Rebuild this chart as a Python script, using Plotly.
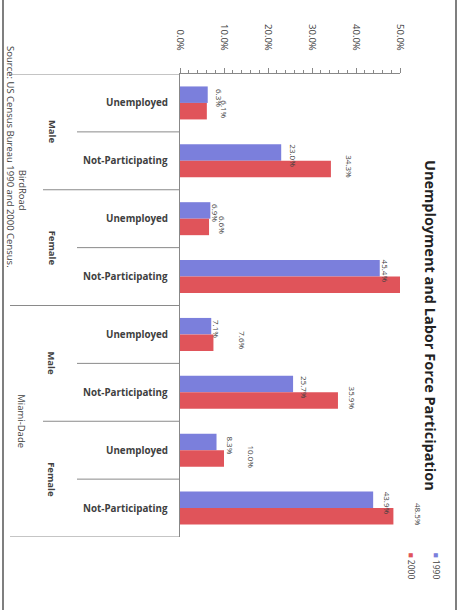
import plotly.graph_objects as go

# ---------------- data ----------------
cat_region = ["BirdRoad"] * 4 + ["Miami-Dade"] * 4
cat_sex = ["Male", "Male", "Female", "Female"] * 2
cat_status = ["Unemployed", "Not-Participating"] * 4
categories = [f"{r} | {s} | {t}" for r, s, t in zip(cat_region, cat_sex, cat_status)]

values_1990 = [6.3, 23.0, 6.9, 45.4, 7.1, 25.7, 8.3, 43.9]
values_2000 = [6.1, 34.3, 6.6, 50.0, 7.6, 35.9, 10.0, 48.5]
labels_1990 = ["6.3%", "23.0%", "6.9%", "45.4%", "7.1%", "25.7%", "8.3%", "43.9%"]
labels_2000 = ["6.1%", "34.3%", "6.6%", "", "7.6%", "35.9%", "10.0%", "48.5%"]

x_tickvals = [0, 10, 20, 30, 40, 50]
x_ticktext = ["0.0%", "10.0%", "20.0%", "30.0%", "40.0%", "50.0%"]

title_text = "Unemployment and Labor Force Participation"
source_text = "Source: US Census Bureau 1990 and 2000 Census."
series_names = ["1990", "2000"]

# label placement offsets (px, styling only)
shift_1990 = [12, 12, 5, 6, 6, 12, 14, 14]
shift_2000 = [18, 19, 13, 0, 29, 14, 28, 25]

# ---------------- style ----------------
BLUE = "#7b7fdc"
RED = "#e0545a"
TXT = "#404040"
FONT = "Open Sans"
W, H = 461, 610
L, R, T, B = 180, 61, 74, 73
PW, PH = W - L - R, H - T - B
BARGAP = 0.43


def px_to_paper_x(px):
    return (px - L) / PW


def px_to_paper_y(py):
    return (H - B - py) / PH


fig = go.Figure()
fig.add_trace(go.Bar(y=categories, x=values_1990, orientation="h", name=series_names[0],
                     marker=dict(color=BLUE, line=dict(width=0))))
fig.add_trace(go.Bar(y=categories, x=values_2000, orientation="h", name=series_names[1],
                     marker=dict(color=RED, line=dict(width=0))))

annotations = []
shapes = []

# value labels
half = (1 - BARGAP) / 4
for i in range(len(categories)):
    for vals, labs, shifts, dy, ysh in ((values_1990, labels_1990, shift_1990, -half, -3),
                                        (values_2000, labels_2000, shift_2000, half, 2)):
        if labs[i]:
            annotations.append(dict(x=vals[i], y=i + dy, xref="x", yref="y", text=labs[i],
                                    textangle=90, showarrow=False, xanchor="center",
                                    yanchor="middle", xshift=shifts[i], yshift=ysh,
                                    font=dict(family=FONT, size=8, color=TXT)))

# status labels
for i, s in enumerate(cat_status):
    annotations.append(dict(x=px_to_paper_x(170), y=i, xref="paper", yref="y", text=f"<b>{s}</b>",
                            showarrow=False, xanchor="right", yanchor="middle",
                            font=dict(family=FONT, size=9.8, color=TXT)))


def groups(keys):
    out = []
    start = 0
    for i in range(1, len(keys) + 1):
        if i == len(keys) or keys[i] != keys[start] or cat_region[i] != cat_region[start]:
            out.append((keys[start], start, i - 1))
            start = i
    return out


for name, a, b in groups(cat_sex):
    annotations.append(dict(x=px_to_paper_x(52), y=(a + b) / 2, xref="paper", yref="y",
                            text=f"<b>{name}</b>", textangle=90, showarrow=False,
                            xanchor="center", yanchor="middle",
                            font=dict(family=FONT, size=9.5, color=TXT)))
for name, a, b in groups(cat_region):
    annotations.append(dict(x=px_to_paper_x(22), y=(a + b) / 2, xref="paper", yref="y",
                            text=name, textangle=90, showarrow=False,
                            xanchor="center", yanchor="middle",
                            font=dict(family=FONT, size=9.5, color=TXT)))

# separators
n = len(categories)
for b in range(n + 1):
    if b == 0 or b == n or cat_region[b] != cat_region[b - 1]:
        x0 = 10
    elif cat_sex[b] != cat_sex[b - 1]:
        x0 = 43
    else:
        x0 = 77
    shapes.append(dict(type="line", xref="paper", yref="y", x0=px_to_paper_x(x0), x1=0,
                       y0=b - 0.5, y1=b - 0.5, line=dict(color="#8a8a8a", width=1)))

# title
annotations.append(dict(x=px_to_paper_x(431), y=px_to_paper_y(325), xref="paper", yref="paper",
                        text=f"<b>{title_text}</b>", textangle=90, showarrow=False,
                        xanchor="center", yanchor="middle",
                        font=dict(family=FONT, size=14.5, color="#222222")))
# source
annotations.append(dict(x=px_to_paper_x(10), y=px_to_paper_y(157), xref="paper", yref="paper",
                        text=source_text, textangle=90, showarrow=False,
                        xanchor="center", yanchor="middle",
                        font=dict(family=FONT, size=9.5, color=TXT)))
# legend (rotated)
for name, col, xpx in ((series_names[0], BLUE, 436), (series_names[1], RED, 411)):
    annotations.append(dict(x=px_to_paper_x(xpx), y=px_to_paper_y(550), xref="paper", yref="paper",
                            text=f"<span style='color:{col}'>■</span> {name}", textangle=90,
                            showarrow=False, xanchor="center", yanchor="top",
                            font=dict(family=FONT, size=8.5, color=TXT)))

# outer frame (left and right edges)
for xpx in (3, 456):
    shapes.append(dict(type="line", xref="paper", yref="paper",
                       x0=px_to_paper_x(xpx), x1=px_to_paper_x(xpx),
                       y0=px_to_paper_y(H), y1=px_to_paper_y(0),
                       line=dict(color="#555555", width=1.5)))

fig.update_layout(
    width=W, height=H,
    margin=dict(l=L, r=R, t=T, b=B, pad=0),
    paper_bgcolor="white", plot_bgcolor="white",
    barmode="group", bargap=BARGAP, bargroupgap=0,
    showlegend=False,
    annotations=annotations, shapes=shapes,
    xaxis=dict(side="top", range=[0, 50], tickvals=x_tickvals, ticktext=x_ticktext,
               tickangle=90, ticks="outside", ticklen=5, tickcolor="#888888",
               minor=dict(dtick=2, ticks="outside", ticklen=3, tickcolor="#888888"),
               showline=True, linecolor="#888888", linewidth=1, showgrid=False, zeroline=False,
               ticklabelstandoff=14,
               tickfont=dict(family=FONT, size=9.5, color=TXT)),
    yaxis=dict(type="category", categoryorder="array", categoryarray=categories,
               range=[n - 0.5, -0.5], showticklabels=False, ticks="",
               showline=True, linecolor="#888888", linewidth=1, showgrid=False, zeroline=False),
)

fig.write_html("out.html", config={"displayModeBar": False},
               post_script="document.body.style.margin='0';")
